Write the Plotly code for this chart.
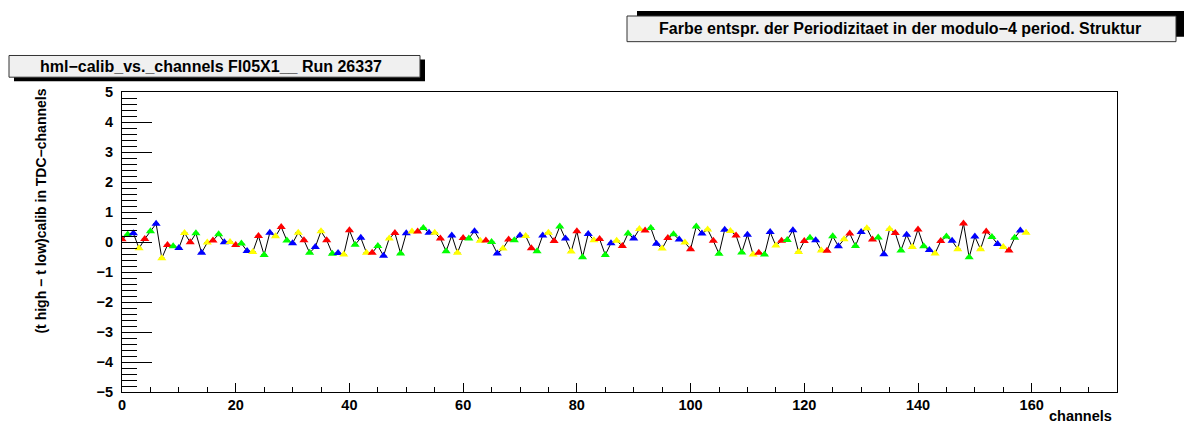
import plotly.graph_objects as go

# ---- data ----
channels = list(range(160))
values = [
    0.09, 0.25, 0.29, -0.21, 0.10, 0.36, 0.61, -0.54, -0.10, -0.14,
    -0.20, 0.30, -0.01, 0.29, -0.36, -0.02, 0.05, 0.26, -0.01, 0.00,
    -0.10, -0.05, -0.30, -0.33, 0.20, -0.43, 0.31, 0.19, 0.50, 0.05,
    -0.04, 0.31, 0.06, -0.36, -0.17, 0.36, 0.06, -0.39, -0.37, -0.42,
    0.39, -0.09, 0.14, -0.36, -0.36, -0.13, -0.46, 0.12, 0.30, -0.38,
    0.29, 0.35, 0.35, 0.47, 0.31, 0.31, 0.12, -0.31, 0.22, -0.36,
    0.13, 0.12, 0.36, 0.04, 0.05, 0.00, -0.38, -0.22, 0.08, 0.06,
    0.22, 0.20, -0.21, -0.31, 0.22, 0.31, 0.03, 0.52, 0.12, -0.32,
    0.36, -0.51, 0.27, 0.06, 0.10, -0.43, -0.04, 0.04, -0.13, 0.28,
    0.12, 0.43, 0.38, 0.47, -0.06, -0.22, 0.13, 0.26, 0.08, -0.02,
    -0.24, 0.52, 0.28, 0.42, 0.04, -0.39, 0.41, 0.37, 0.22, -0.35,
    0.24, -0.42, -0.36, -0.42, 0.33, -0.12, 0.04, 0.07, 0.39, -0.33,
    0.03, 0.14, 0.06, -0.28, -0.29, 0.19, -0.14, 0.09, 0.28, -0.13,
    0.33, 0.46, 0.08, 0.15, -0.41, 0.43, 0.30, -0.28, 0.24, -0.17,
    0.42, -0.14, -0.27, -0.38, 0.03, 0.18, 0.04, -0.24, 0.62, -0.51,
    0.18, -0.24, 0.35, 0.17, -0.07, -0.17, -0.28, 0.14, 0.38, 0.31,
]
x_err = [0.5] * len(channels)
period_colors = ["#ff0000", "#00ff00", "#0000ff", "#ffff00"]
x_ticks = [0, 20, 40, 60, 80, 100, 120, 140, 160]
y_ticks = [-5, -4, -3, -2, -1, 0, 1, 2, 3, 4, 5]
y_tick_text = ["\u22125", "\u22124", "\u22123", "\u22122", "\u22121", "0", "1", "2", "3", "4", "5"]

title_text = "hml\u2212calib_vs._channels FI05X1__ Run 26337"
legend_text = "Farbe entspr. der Periodizitaet in der modulo\u22124 period. Struktur"
y_title = "(t high \u2212 t low)calib in TDC\u2212channels"
x_title = "channels"

# ---- geometry (pixels) ----
W, H = 1192, 425
L, R, T, B = 122, 75, 92, 29
PW, PH = W - L - R, H - T - B


def px(x):
    return (x - L) / PW


def py(y):
    return (H - B - y) / PH


FONT = "Liberation Sans"
colors = [period_colors[c % 4] for c in channels]

fig = go.Figure()
fig.add_trace(go.Scatter(
    x=channels, y=values, mode="lines+markers",
    line=dict(color="black", width=1),
    marker=dict(symbol="triangle-up", size=8, color=colors, line=dict(width=0)),
    error_x=dict(type="data", array=x_err, color="black", thickness=1, width=0),
    showlegend=False, hoverinfo="x+y",
))

shapes = []
# title box with shadow
shapes.append(dict(type="rect", xref="paper", yref="paper",
                   x0=px(14), x1=px(425), y0=py(59), y1=py(81),
                   fillcolor="black", line=dict(width=0), layer="above"))
shapes.append(dict(type="rect", xref="paper", yref="paper",
                   x0=px(9), x1=px(420), y0=py(55), y1=py(77),
                   fillcolor="#f0f0f0", line=dict(color="#333333", width=1), layer="above"))
# legend-like box with shadow
shapes.append(dict(type="rect", xref="paper", yref="paper",
                   x0=px(637), x1=px(1184), y0=py(10), y1=py(36),
                   fillcolor="black", line=dict(width=0), layer="above"))
shapes.append(dict(type="rect", xref="paper", yref="paper",
                   x0=px(627), x1=px(1176), y0=py(15), y1=py(41),
                   fillcolor="#f0f0f0", line=dict(color="#333333", width=1), layer="above"))

annotations = [
    dict(text=title_text, xref="paper", yref="paper", x=px(211), y=py(66),
         xanchor="center", yanchor="middle", showarrow=False,
         font=dict(family=FONT, size=16, color="black", weight="bold")),
    dict(text=legend_text, xref="paper", yref="paper", x=px(900), y=py(28),
         xanchor="center", yanchor="middle", showarrow=False,
         font=dict(family=FONT, size=16, color="black", weight="bold")),
    dict(text=y_title, xref="paper", yref="paper", x=px(41), y=py(87),
         xanchor="center", yanchor="top", textangle=-90, showarrow=False,
         font=dict(family=FONT, size=14, color="black", weight="bold")),
    dict(text=x_title, xref="paper", yref="paper", x=px(1114), y=py(420),
         xanchor="right", yanchor="middle", showarrow=False,
         font=dict(family=FONT, size=14.5, color="black", weight="bold")),
]

fig.update_layout(
    width=W, height=H,
    margin=dict(l=L, r=R, t=T, b=B, pad=0),
    paper_bgcolor="white", plot_bgcolor="white",
    shapes=shapes, annotations=annotations,
    xaxis=dict(range=[0, 175], tickvals=x_ticks, ticks="inside", ticklen=9,
               tickcolor="black", showline=True, linecolor="black", linewidth=1,
               mirror=True, showgrid=False, zeroline=False,
               tickfont=dict(family=FONT, size=14.5, color="black", weight="bold"),
               minor=dict(dtick=5, tick0=0, ticks="inside", ticklen=5, tickcolor="black", showgrid=False)),
    yaxis=dict(range=[-5, 5], tickvals=y_ticks, ticktext=y_tick_text, ticks="inside", ticklen=30,
               tickcolor="black", showline=True, linecolor="black", linewidth=1,
               mirror=True, showgrid=False, zeroline=False, ticklabelstandoff=5,
               tickfont=dict(family=FONT, size=14.5, color="black", weight="bold"),
               minor=dict(dtick=0.2, tick0=0, ticks="inside", ticklen=15, tickcolor="black", showgrid=False)),
)

fig.write_html("out.html")
